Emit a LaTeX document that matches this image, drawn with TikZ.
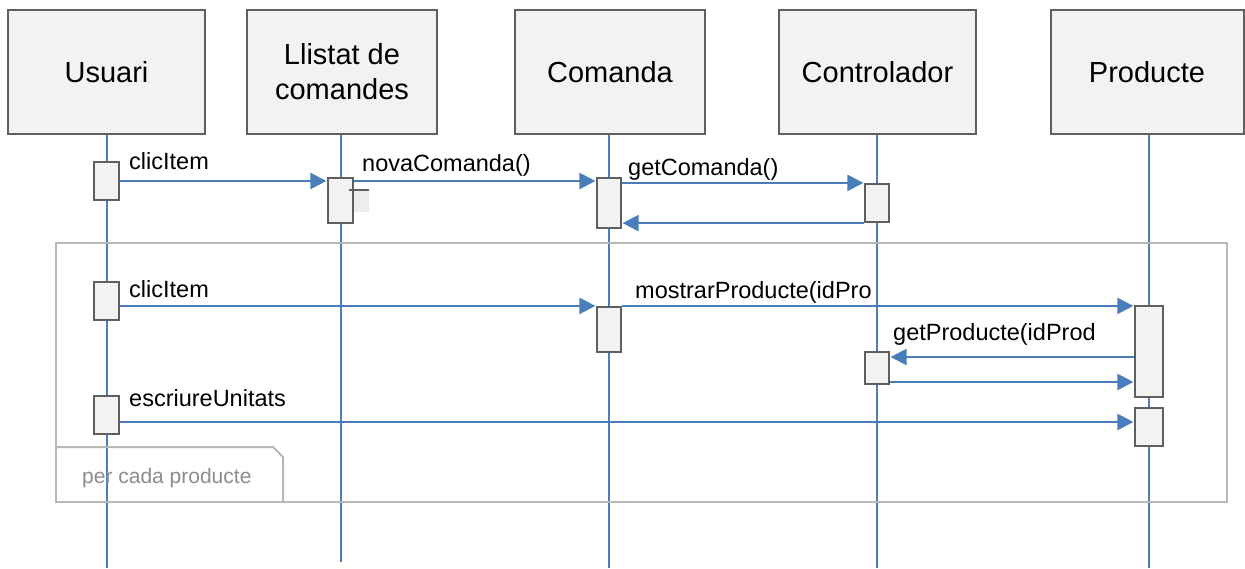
\documentclass[tikz,border=0pt]{standalone}
\usepackage{fontspec}
\setmainfont{Liberation Sans}
\usetikzlibrary{arrows.meta}
\definecolor{lifeblue}{RGB}{74,126,187}
\definecolor{boxfill}{RGB}{242,242,242}
\definecolor{boxline}{RGB}{95,95,95}
\definecolor{framegray}{RGB}{183,183,183}
\definecolor{tabtext}{RGB}{140,140,140}
\tikzset{
  head/.style={draw=boxline, fill=boxfill, line width=2pt, minimum height=124pt,
    inner sep=0pt, align=center, font=\fontsize{29}{35}\selectfont},
  act/.style={draw=boxline, fill=boxfill, line width=2.2pt, minimum width=25pt, inner sep=0pt},
  lifeline/.style={draw=lifeblue, line width=1.8pt},
  msg/.style={draw=lifeblue, line width=2.4pt, -{Triangle[length=16pt,width=16pt]}, shorten >=0.5pt},
  lbl/.style={anchor=base west, inner sep=0pt, font=\fontsize{23.5}{28}\selectfont},
  frame/.style={draw=framegray, line width=2pt},
}
\begin{document}
\begin{tikzpicture}[x=1pt, y=-1pt]
\useasboundingbox (0,0) rectangle (1245,568);

% lifeline heads
\node[head, minimum width=197pt] (usuari) at (106.5,72) {Usuari};
\node[head, minimum width=190pt] (llistat) at (342,72) {Llistat de\\comandes};
\node[head, minimum width=190pt] (comanda) at (610,72) {Comanda};
\node[head, minimum width=197pt] (control) at (877.5,72) {Controlador};
\node[head, minimum width=193pt] (producte) at (1147,72) {Producte};

% lifeline ends
\coordinate (uend) at (107,568);
\coordinate (lend) at (341,562);
\coordinate (cend) at (609,568);
\coordinate (kend) at (877,568);
\coordinate (pend) at (1149,568);

\draw[lifeline] (usuari.south -| uend) -- (uend);
\draw[lifeline] (llistat.south -| lend) -- (lend);
\draw[lifeline] (comanda.south -| cend) -- (cend);
\draw[lifeline] (control.south -| kend) -- (kend);
\draw[lifeline] (producte.south -| pend) -- (pend);

% loop fragment
\draw[frame] (56,243) rectangle (1227,502);
\draw[frame, line join=miter] (56,447) -- (273,447) -- (283,457) -- (283,502);
\node[anchor=base west, inner sep=0pt, text=tabtext, font=\fontsize{21}{25}\selectfont]
  (looplbl) at (82,483) {per cada producte};

% activation bars
\node[act, minimum height=38pt] (u1) at (106.5,181) {};
\node[act, minimum height=45pt] (l1) at (340.5,200.5) {};
\node[act, minimum width=24pt, minimum height=50pt] (c1) at (609,203) {};
\node[act, minimum width=24pt, minimum height=38pt] (k1) at (877,203) {};
\node[act, minimum height=38pt] (u2) at (106.5,301) {};
\node[act, minimum width=24pt, minimum height=45pt] (c2) at (609,329.5) {};
\node[act, minimum width=28pt, minimum height=91pt] (p1) at (1149,351.5) {};
\node[act, minimum width=24pt, minimum height=32pt] (k2) at (877,368) {};
\node[act, minimum height=38pt] (u3) at (106.5,415) {};
\node[act, minimum width=28pt, minimum height=38pt] (p2) at (1149,427) {};

% nested bar on the list lifeline
\fill[boxfill!85!gray!60!white] (l1.east |- 0,190) rectangle (369,212);
\draw[boxline, line width=2.2pt] (349,190) -- (369,190);

% messages
\draw[msg] (u1.east) -- (l1.west |- u1.east);
\draw[msg] (l1.east |- u1.east) -- (c1.west |- u1.east);
\draw[msg] (c1.east |- k1.north) -- (k1.north west);
\draw[msg] (k1.south west) -- (c1.east |- k1.south);
\draw[msg] (u2.east |- c2.north) -- (c2.north west);
\draw[msg] (c2.north east) -- (p1.west |- c2.north);
\draw[msg] (p1.west |- 0,357) -- (k2.east |- 0,357);
\draw[msg] (k2.east |- 0,382) -- (p1.west |- 0,382);
\draw[msg] (u3.east |- 0,422) -- (p2.west |- 0,422);

% message labels
\node[lbl] (m1) at (129,169) {clicItem};
\node[lbl] (m2) at (362,171) {novaComanda()};
\node[lbl] (m3) at (628,175) {getComanda()};
\node[lbl] (m4) at (129,297) {clicItem};
\node[lbl] (m5) at (635,298) {mostrarProducte(idPro};
\node[lbl] (m6) at (893,340) {getProducte(idProd};
\node[lbl] (m7) at (129,406) {escriureUnitats};
\end{tikzpicture}
\end{document}
